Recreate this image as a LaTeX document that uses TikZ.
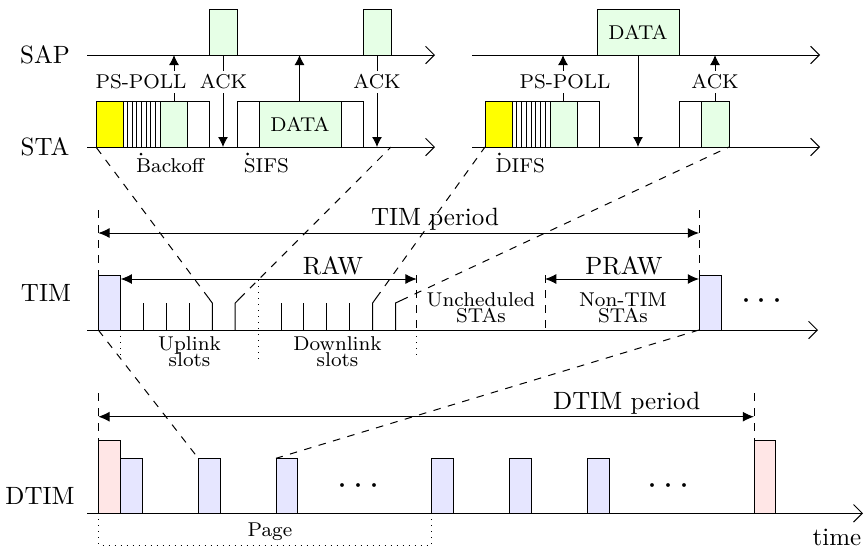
\documentclass[tikz,border=0pt]{standalone}
\usepackage{xcolor}
\usepackage{amsmath}
\usepackage{tikz}
\usetikzlibrary{arrows.meta,calc}
\definecolor{sari}{HTML}{FFFF00}
\definecolor{paketYesil}{HTML}{E6FFE6}
\definecolor{timMavi}{HTML}{E6E6FF}
\definecolor{dtimPembe}{HTML}{FFE6E6}

\begin{document}
\begin{tikzpicture}[x=0.4pt,y=-0.4pt,
  eksen/.style={-{Straight Barb[length=3.5pt,width=7pt]}},
  ok/.style={-{Latex[length=4pt,width=4pt]}},
  ciftOk/.style={{Latex[length=4.5pt,width=4pt]}-{Latex[length=4.5pt,width=4pt]}},
  etiket/.style={fill=white,font=\footnotesize,inner sep=1.5pt},
  kucuk/.style={font=\footnotesize,align=center,inner sep=0pt},
  noktalar/.style={font=\Large,inner sep=0pt}]
\useasboundingbox (0,0) rectangle (867,548);

% satir etiketleri
\node (sap) at (45,55) {SAP};
\node (sta) at (45,147) {STA};
\node (tim) at (46,293) {TIM};
\node (dtim) at (40,496) {DTIM};

% zaman eksenleri
\draw[eksen] (87,55) -- (435,55);
\draw[eksen] (87,147) -- (435,147);
\draw[eksen] (472,55) -- (820,55);
\draw[eksen] (472,147) -- (820,147);
\draw[eksen] (87,330) -- (818,330);
\draw[eksen] (87,513.3) -- (863,513.3);

% sol: PS-POLL, ACK, DATA, ACK
\draw[fill=sari] (96,101) rectangle (123,147);
\draw (123,101) rectangle (160,147);
\foreach \i in {1,...,7} \draw ({123+4.625*\i},101) -- ++(0,46);
\draw[fill=paketYesil] (160,101) rectangle (187,147);
\draw (187,101) rectangle (209,147);
\draw (237,101) rectangle (259,147);
\draw[fill=paketYesil] (259,101) rectangle (341,147);
\draw (341,101) rectangle (363,147);
\node[font=\footnotesize] (veri1) at (300,124) {DATA};
\draw[fill=paketYesil] (209,9) rectangle (237,55);
\draw[fill=paketYesil] (363,9) rectangle (391,55);
\draw[ok] (174,101) -- (174,55);
\draw[ok] (223,55) -- (223,147);
\draw[ok] (299.5,101) -- (299.5,55);
\draw[ok] (377,55) -- (377,147);
\node[etiket] (pspoll1) at (141,82) {PS-POLL};
\node[etiket] (ack1) at (223.5,82) {ACK};
\node[etiket] (ack2) at (377,82) {ACK};
\fill (141,154) circle (0.6pt);
\node[font=\footnotesize,anchor=base west,inner sep=0pt] (backoff) at (135.7,172) {Backoff};
\fill (247.7,154) circle (0.6pt);
\node[font=\footnotesize,anchor=base west,inner sep=0pt] (sifs) at (243.3,172) {SIFS};

% sag: PS-POLL, DATA, ACK
\draw[fill=paketYesil] (597,9) rectangle (679,55);
\node[font=\footnotesize] (veri2) at (638,32) {DATA};
\draw[fill=sari] (485,101) rectangle (512,147);
\draw (512,101) rectangle (550,147);
\foreach \i in {1,...,7} \draw ({512+4.75*\i},101) -- ++(0,46);
\draw[fill=paketYesil] (550,101) rectangle (577,147);
\draw (577,101) rectangle (599,147);
\draw (679,101) rectangle (701,147);
\draw[fill=paketYesil] (701,101) rectangle (729,147);
\draw[ok] (563,101) -- (563,55);
\draw[ok] (638,55) -- (638,147);
\draw[ok] (715,101) -- (715,55);
\node[etiket] (pspoll2) at (565,82) {PS-POLL};
\node[etiket] (ack3) at (715,82) {ACK};
\fill (499.3,154) circle (0.6pt);
\node[font=\footnotesize,anchor=base west,inner sep=0pt] (difs) at (495,172) {DIFS};

% TIM
\coordinate (solBas) at (96,147);
\coordinate (solSon) at (391,147);
\coordinate (sagBas) at (485,147);
\coordinate (sagSon) at (729,147);
\draw[fill=timMavi] (98.3,275) rectangle (120.7,330);
\draw[fill=timMavi] (699,275) rectangle (721,330);
\draw[dashed] (98.3,210) -- (98.3,275);
\draw[dashed] (699,210) -- (699,275);
\draw[ciftOk] (98.3,233) -- (699,233);
\node[anchor=base] (timPeriyot) at (435,225.5) {TIM period};
\draw[ciftOk] (120.7,279) -- (416.7,279);
\node[anchor=base] (raw) at (333,274) {RAW};
\draw[ciftOk] (545,279) -- (699,279);
\node[anchor=base] (praw) at (624,274) {PRAW};
\draw[dashed] (416.7,275) -- (416.7,330);
\draw[dashed] (545,275) -- (545,330);
\foreach \k in {1,2,3,7,8,9,10} \draw ({120.7+22.9*\k},330) -- ++(0,-27);
\foreach \k/\hedef in {4/solBas,5/solSon,11/sagBas,12/sagSon}{
  \draw ({120.7+22.9*\k},330) -- ++(0,-27) coordinate (kirik)
        -- ($(kirik)!2.4pt!(\hedef)$) coordinate (kesik);
  \draw[dashed] (kesik) -- (\hedef);
}
\draw[dotted] (120.7,330) -- (120.7,360);
\draw[dotted] (258.1,280) -- (258.1,360);
\draw[dotted] (416.7,330) -- (416.7,360);
\node[kucuk] (uplink) at (189.5,352) {Uplink\\[-3pt]slots};
\node[kucuk] (downlink) at (337.5,352) {Downlink\\[-3pt]slots};
\node[kucuk] (planlanmamis) at (481,307.5) {Uncheduled\\[-3pt]STAs};
\node[kucuk] (timsiz) at (623,307.5) {Non-TIM\\[-3pt]STAs};
\node[noktalar] (timNokta) at (765,301.7) {$\cdots$};

% DTIM
\draw[dashed] (98.3,330) -- (198.3,458.3);
\draw[dashed] (699,330) -- (276,458.3);
\draw[dashed] (98.3,393) -- (98.3,440);
\draw[dashed] (754,393) -- (754,440);
\draw[ciftOk] (98.3,416.7) -- (754,416.7);
\node[anchor=base] (dtimPeriyot) at (626.7,409.3) {DTIM period};
\draw[fill=dtimPembe] (98.3,440) rectangle (120.3,513.3);
\draw[fill=dtimPembe] (754,440) rectangle (775.7,513.3);
\foreach \x in {120.3,198.3,276,431.7,509.3,587.3}
  \draw[fill=timMavi] (\x,458.3) rectangle ++(21.7,55);
\node[noktalar] (nokta1) at (361.7,486.7) {$\cdots$};
\node[noktalar] (nokta2) at (671.7,486.7) {$\cdots$};
\draw[dotted] (98.3,513.3) -- (98.3,545) -- (431.7,545) -- (431.7,513.3);
\node[font=\footnotesize] (sayfa) at (270,531.7) {Page};
\node (zaman) at (837,537) {time};
\end{tikzpicture}
\end{document}
